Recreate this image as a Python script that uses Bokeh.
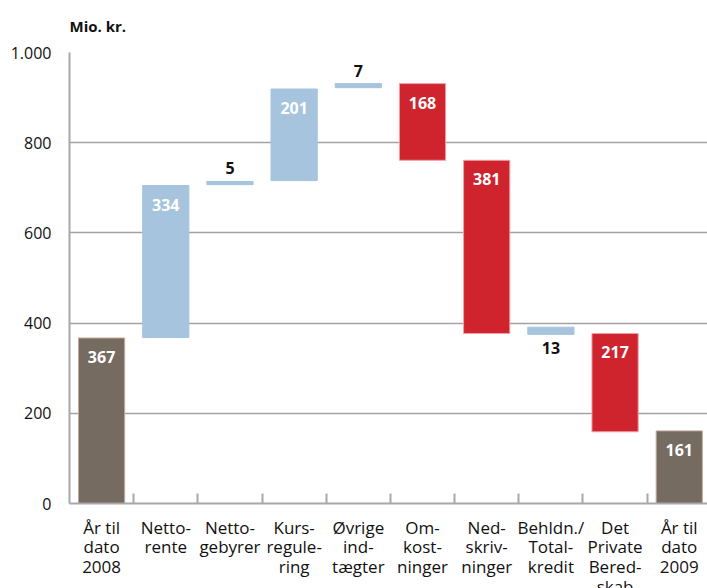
from bokeh.plotting import figure
from bokeh.models import ColumnDataSource, Range1d, FixedTicker
from bokeh.core.properties import value
from bokeh.embed import file_html
from bokeh.resources import INLINE

# ---- data ----
categories = ["År til\ndato\n2008", "Netto-\nrente", "Netto-\ngebyrer", "Kurs-\nregule-\nring",
              "Øvrige\nind-\ntægter", "Om-\nkost-\nninger", "Ned-\nskriv-\nninger",
              "Behldn./\nTotal-\nkredit", "Det\nPrivate\nBered-\nskab", "År til\ndato\n2009"]
bar_bottom = [0, 368, 707, 716, 922, 761, 377, 375, 159, 0]
bar_top = [367, 705, 714, 919, 931, 931, 761, 391, 377, 161]
bar_kind = ["total", "gain", "gain", "gain", "gain", "cost", "cost", "gain", "cost", "total"]
value_labels = ["367", "334", "5", "201", "7", "168", "381", "13", "217", "161"]
label_place = ["inside", "inside", "above", "inside", "above", "inside", "inside", "below", "inside", "inside"]
y_ticks = [0, 200, 400, 600, 800, 1000]
y_tick_labels = ["0", "200", "400", "600", "800", "1.000"]

FONT = "Open Sans"
fill_map = {"total": "#766b61", "gain": "#a6c4de", "cost": "#cf232e"}
line_map = {"total": "#c9ab9b", "gain": "#a6c4de", "cost": "#eda0a6"}

xs = list(range(len(categories)))
src = ColumnDataSource(dict(
    x=xs, bottom=bar_bottom, top=bar_top,
    fill=[fill_map[k] for k in bar_kind],
    line=[line_map[k] for k in bar_kind],
))

p = figure(width=707, height=604, x_range=Range1d(-0.5, 9.44), y_range=Range1d(0, 1000),
           output_backend="svg", toolbar_location=None,
           min_border_left=69, min_border_right=0, min_border_top=51, min_border_bottom=101)
p.outline_line_color = None
p.background_fill_color = "white"

p.title.text = "Mio. kr."
p.title.text_font = FONT
p.title.text_font_size = "15px"
p.title.text_font_style = "bold"
p.title.text_color = "#111111"
p.title.align = "left"
p.title.vertical_align = "top"
p.title.standoff = 30

p.vbar(x="x", bottom="bottom", top="top", width=0.72, fill_color="fill",
       line_color="line", line_width=1, source=src)

# value labels
for place, color, yoff in [("inside", "white", 19), ("above", "#111111", -13), ("below", "#111111", 14)]:
    idx = [i for i, pl in enumerate(label_place) if pl == place]
    ys = [bar_bottom[i] if place == "below" else bar_top[i] for i in idx]
    p.text(x=[xs[i] for i in idx], y=ys, text=[value_labels[i] for i in idx],
           text_align="center", text_baseline="middle", y_offset=yoff,
           text_color=color, text_font=value(FONT), text_font_style="bold",
           text_font_size="16px")

# grid
p.xgrid.visible = False
p.ygrid.ticker = FixedTicker(ticks=y_ticks[1:])
p.ygrid.grid_line_color = "#a3a3a3"
p.ygrid.grid_line_width = 1.5

# y axis
p.yaxis.ticker = FixedTicker(ticks=y_ticks)
p.yaxis.major_label_overrides = {t: l for t, l in zip(y_ticks, y_tick_labels)}
p.yaxis.major_tick_line_color = None
p.yaxis.minor_tick_line_color = None
p.yaxis.axis_line_color = "#a8a8a8"
p.yaxis.axis_line_width = 2
p.yaxis.major_label_text_font = FONT
p.yaxis.major_label_text_font_size = "16px"
p.yaxis.major_label_text_color = "#111111"
p.yaxis.major_label_standoff = 12

# x axis
boundaries = [i + 0.5 for i in xs[:-1]]
p.xaxis.ticker = FixedTicker(ticks=xs, minor_ticks=boundaries)
p.xaxis.major_label_overrides = {i: c for i, c in zip(xs, categories)}
p.xaxis.major_tick_line_color = None
p.xaxis.minor_tick_line_color = "#a8a8a8"
p.xaxis.minor_tick_line_width = 2
p.xaxis.minor_tick_in = 10
p.xaxis.minor_tick_out = 0
p.xaxis.axis_line_color = "#a8a8a8"
p.xaxis.axis_line_width = 2
p.xaxis.major_label_text_font = FONT
p.xaxis.major_label_text_font_size = "17px"
p.xaxis.major_label_text_color = "#111111"
p.xaxis.major_label_standoff = 6
p.xaxis.major_label_text_line_height = 0.866

open("out.html", "w").write(file_html(p, INLINE))
